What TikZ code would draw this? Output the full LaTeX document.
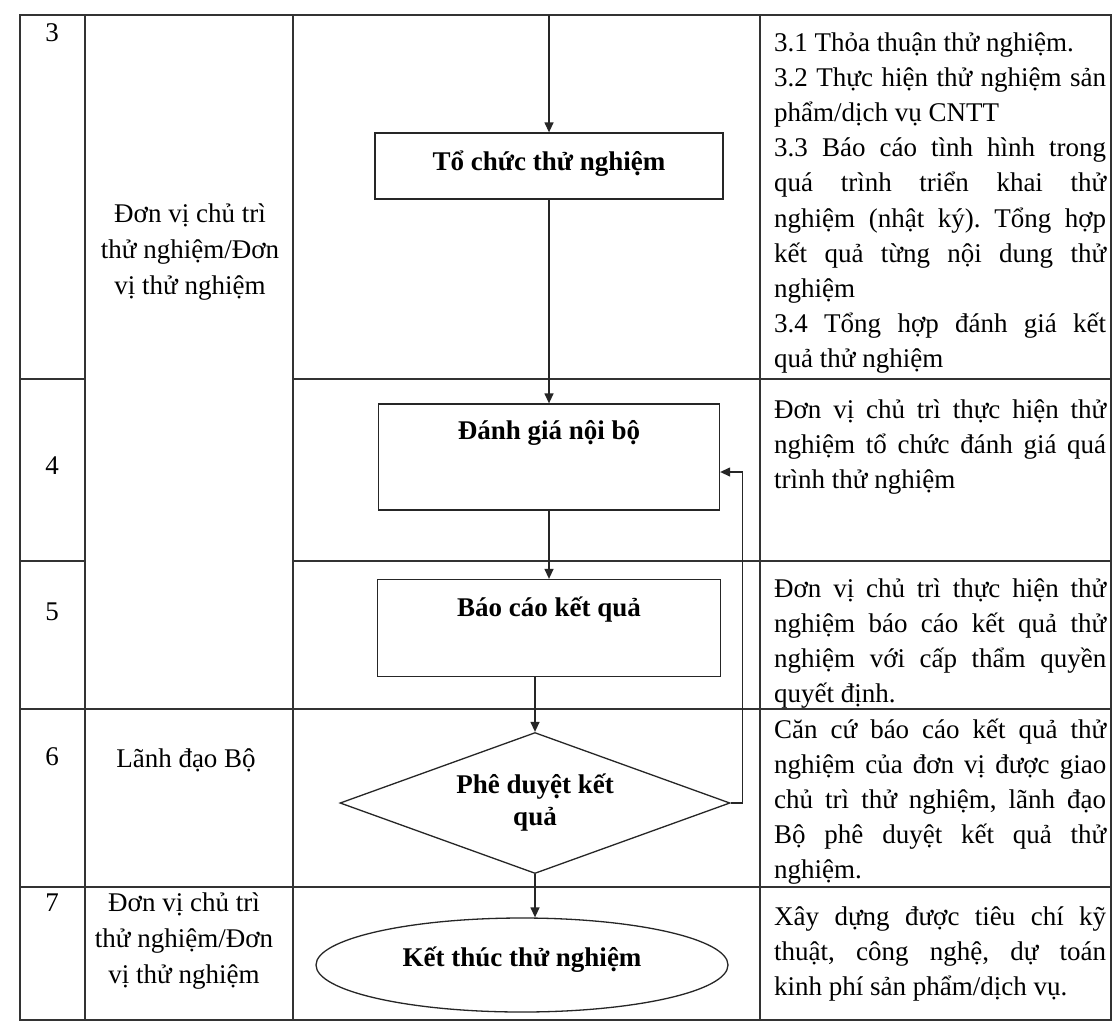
\documentclass[tikz,border=0pt]{standalone}
\usepackage{fontspec}
\setmainfont{Liberation Serif}
\frenchspacing
\usetikzlibrary{shapes.geometric,arrows.meta}
\tikzset{>={Triangle[length=10pt,width=9pt]}}

\begin{document}
\begin{tikzpicture}[x=1pt,y=-1pt,
    font=\fontsize{27}{36}\selectfont,
    grid/.style={line width=1.4pt,draw=black!80},
    flow/.style={line width=1.3pt,draw=black!85},
    proc/.style={flow,rectangle,font=\fontsize{27}{36}\selectfont\bfseries,text height=20pt},
    decide/.style={flow,diamond,aspect=2.77,align=center,inner sep=0pt,font=\fontsize{27}{32}\selectfont\bfseries},
    term/.style={flow,ellipse,font=\fontsize{27}{36}\selectfont\bfseries,text height=20pt},
    lane/.style={align=center},
    desc/.style={anchor=base west,text width=332pt,align=justify,inner xsep=14pt,font=\fontsize{27}{35.2}\selectfont}]
  \useasboundingbox (0,0) rectangle (1115,1031);
  \fill[white] (0,0) rectangle (1115,1031);

  % table frame
  \draw[grid] (20,15) rectangle (1111,1020);
  \foreach \x in {85,293,760}
    \draw[grid] (\x,15) -- (\x,1020);
  \foreach \y in {379,561} {
    \draw[grid] (20,\y) -- (85,\y);
    \draw[grid] (293,\y) -- (1111,\y);
  }
  \foreach \y in {709,887}
    \draw[grid] (20,\y) -- (1111,\y);

  % step numbers and units
  \foreach \n/\y in {3/33,4/466,5/612,6/757,7/903}
    \node (num\n) at (52,\y) {\n};
  \node[lane] (unitA) at (190,252) {Đơn vị chủ trì\\thử nghiệm/Đơn\\vị thử nghiệm};
  \node[lane] (lead) at (186,760) {Lãnh đạo Bộ};
  \node[lane] (unitB) at (184,941) {Đơn vị chủ trì\\thử nghiệm/Đơn\\vị thử nghiệm};

  % flow
  \coordinate (in) at (549,15);
  \node[proc,minimum width=348pt,minimum height=66pt,text depth=11pt] (tochuc) at (549,166) {Tổ chức thử nghiệm};
  \node[proc,minimum width=341pt,minimum height=106pt,text depth=56pt] (danhgia) at (549,457) {Đánh giá nội bộ};
  \node[proc,minimum width=343pt,minimum height=97pt,text depth=44pt] (baocao) at (549,628) {Báo cáo kết quả};
  \node[decide,minimum width=390pt,minimum height=141pt] (pheduyet) at (535,803) {Phê duyệt kết\\quả};
  \node[term,minimum width=412pt,minimum height=94pt,text depth=18pt] (ketthuc) at (522,965) {Kết thúc thử nghiệm};

  \draw[flow,->] (in) -- (tochuc);
  \draw[flow,->] (tochuc) -- (danhgia);
  \draw[flow,->] (danhgia) -- (baocao);
  \draw[flow,->] (baocao.south -| pheduyet.north) -- (pheduyet);
  \draw[flow,->] (pheduyet) -- (pheduyet.south |- ketthuc.north);
  \draw[flow,->] (pheduyet.east) -- ++(12,0) |- ([yshift=-15pt]danhgia.east);

  % descriptions
  \node[desc] (descA) at (760,51) {3.1 Thỏa thuận thử nghiệm.\par
    3.2 Thực hiện thử nghiệm sản\linebreak phẩm/dịch vụ CNTT\par
    3.3 Báo cáo tình hình trong\linebreak quá trình triển khai thử\linebreak
    nghiệm (nhật ký). Tổng hợp\linebreak kết quả từng nội dung thử\linebreak nghiệm\par
    3.4 Tổng hợp đánh giá kết\linebreak quả thử nghiệm};
  \node[desc] (descB) at (760,418) {Đơn vị chủ trì thực hiện thử\linebreak
    nghiệm tổ chức đánh giá quá\linebreak trình thử nghiệm};
  \node[desc] (descC) at (760,597) {Đơn vị chủ trì thực hiện thử\linebreak
    nghiệm báo cáo kết quả thử\linebreak nghiệm với cấp thẩm quyền\linebreak quyết định.};
  \node[desc] (descD) at (760,738) {Căn cứ báo cáo kết quả thử\linebreak
    nghiệm của đơn vị được giao\linebreak chủ trì thử nghiệm, lãnh đạo\linebreak
    Bộ phê duyệt kết quả thử\linebreak nghiệm.};
  \node[desc] (descE) at (760,925) {Xây dựng được tiêu chí kỹ\linebreak
    thuật, công nghệ, dự toán\linebreak kinh phí sản phẩm/dịch vụ.};
\end{tikzpicture}
\end{document}
